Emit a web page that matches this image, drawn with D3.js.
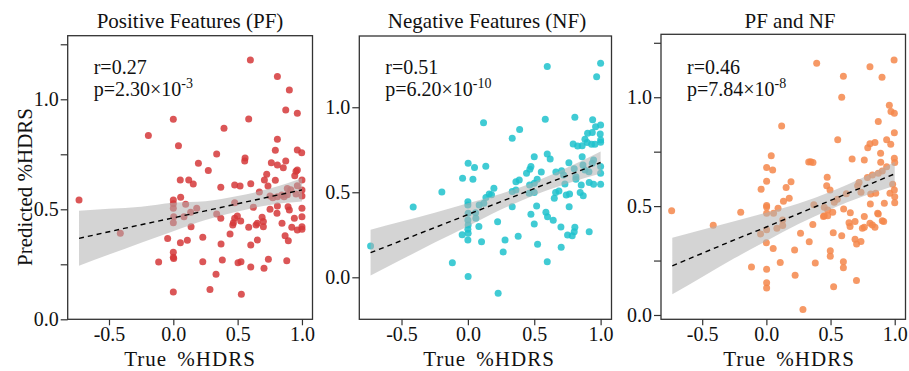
<!DOCTYPE html>
<html><head><meta charset="utf-8">
<script src="https://cdn.jsdelivr.net/npm/d3@7/dist/d3.min.js"></script>
<style>
html,body{margin:0;padding:0;background:#fff;}
svg{display:block;}
svg text{font-family:"Liberation Serif","Times New Roman",serif !important;}
</style></head>
<body><svg id="chart" width="909" height="371"></svg>
<script>
// ---------- DATA ----------
const titles = ["Positive Features (PF)", "Negative Features (NF)", "PF and NF"];
const rValues = ["0.27", "0.51", "0.46"];
const pMantissa = ["2.30", "6.20", "7.84"];
const pExponent = ["-3", "-10", "-8"];
const xTickValues = [-0.5, 0, 0.5, 1.0];
const yTicksPF = [0, 0.25, 0.5, 0.75, 1.0, 1.25];
const yTicksNF = [0, 0.5, 1.0];
const yTicksBoth = [0, 0.25, 0.5, 0.75, 1.0, 1.25];
const yTickLabels = [0, 0.5, 1.0];

const pfPoints = [[-0.733,0.542],[-0.412,0.391],[-0.194,0.835],[-0.114,0.261],[-0.044,0.367],
[0.0,0.909],[0.0,0.542],[0.0,0.525],[0.0,0.505],[0.003,0.466],[0.0,0.439],[0.0,0.305],[0.0,0.282],[0.003,0.276],[0.0,0.124],
[0.04,0.789],[0.054,0.633],[0.057,0.555],[0.055,0.348],[0.096,0.523],[0.083,0.466],[0.109,0.359],[0.12,0.633],[0.155,0.615],[0.135,0.486],[0.138,0.421],[0.182,0.505],[0.195,0.709],
[0.229,0.373],[0.229,0.262],[0.272,0.676],[0.285,0.136],[0.332,0.205],[0.337,0.751],[0.337,0.479],[0.369,0.6],[0.369,0.459],[0.371,0.342],[0.381,0.27],[0.394,0.868],[0.441,0.388],
[0.477,0.61],[0.477,0.53],[0.477,0.459],[0.498,0.47],[0.467,0.439],[0.462,0.429],[0.524,0.447],[0.503,0.257],[0.526,0.262],[0.519,0.606],[0.529,0.114],
[0.558,0.733],[0.555,0.72],[0.586,0.91],[0.586,0.418],[0.602,0.616],[0.602,0.338],[0.602,0.238],[0.599,1.179],[0.622,0.509],[0.643,0.429],[0.653,0.436],[0.653,0.36],[0.669,0.579],[0.69,0.464],[0.7,0.444],[0.7,0.421],[0.705,0.232],[0.708,0.633],[0.726,0.659],[0.736,0.606],[0.739,0.273],
[0.752,0.56],[0.752,0.5],[0.762,0.712],[0.773,0.553],[0.793,0.768],[0.793,0.632],[0.809,0.818],[0.809,0.701],[0.809,1.103],[0.809,0.557],[0.809,0.515],[0.806,0.482],[0.843,0.565],[0.845,0.436],[0.855,0.689],[0.861,0.557],[0.869,0.38],[0.874,0.951],[0.874,0.72],[0.882,0.266],[0.886,0.595],[0.886,0.566],[0.892,0.512],[0.894,0.357],[0.902,1.042],[0.902,0.497],[0.913,0.589],[0.921,0.418],[0.941,0.459],[0.944,0.653],[0.954,0.673],[0.954,0.57],[0.964,0.936],[0.964,0.77],[0.964,0.679],[0.964,0.607],[0.964,0.406],[0.998,0.757],[1.0,0.633],[1.0,0.588],[1.0,0.56],[1.0,0.505],[1.0,0.466],[1.0,0.421],[1.0,0.409]];

const nfPoints = [[-0.733,0.184],[-0.412,0.414],[-0.196,0.501],[-0.117,0.086],[-0.04,0.582],[-0.043,0.25],
[0.002,0.671],[0.0,0.445],[0.0,0.425],[0.002,0.376],[0.0,0.337],[0.002,0.307],[0.0,0.282],[0.002,0.259],[0.0,0.219],[0.002,0.004],
[0.038,0.576],[0.05,0.646],[0.058,0.38],[0.06,0.347],[0.083,0.298],[0.085,0.425],[0.103,0.209],[0.118,0.909],[0.12,0.435],[0.135,0.653],[0.136,0.47],[0.161,0.49],[0.178,0.486],[0.196,0.523],
[0.224,0.327],[0.228,-0.094],[0.266,0.149],[0.28,0.219],[0.334,0.817],[0.334,0.504],[0.334,0.415],[0.362,0.562],[0.362,0.514],[0.379,0.242],[0.39,0.869],[0.387,0.572],
[0.442,0.612],[0.467,0.635],[0.475,0.651],[0.465,0.543],[0.462,0.494],[0.475,0.371],[0.5,0.709],[0.5,0.553],[0.5,0.498],[0.5,0.313],[0.518,0.419],[0.522,0.576],[0.525,0.194],
[0.553,0.619],[0.583,0.929],[0.588,0.382],[0.598,1.239],[0.598,0.725],[0.598,0.092],[0.6,0.356],[0.62,0.696],[0.643,0.335],[0.651,0.465],[0.661,0.498],[0.663,0.619],[0.686,0.508],[0.701,0.296],[0.703,0.176],[0.706,0.627],[0.721,0.602],[0.731,0.549],[0.741,0.484],[0.751,0.249],[0.761,0.674],[0.763,0.415],[0.766,0.49],[0.786,0.245],[0.793,0.784],[0.801,0.639],[0.801,0.268],[0.806,0.941],[0.806,0.294],[0.814,0.592],[0.814,0.576],[0.827,0.772],[0.846,0.498],[0.854,0.543],[0.861,0.774],[0.861,0.709],[0.867,0.661],[0.869,0.48],[0.882,0.812],[0.882,0.631],[0.899,0.792],[0.902,0.847],[0.912,0.621],[0.914,0.557],[0.914,0.268],[0.932,0.782],[0.937,0.851],[0.937,0.671],[0.94,0.927],[0.947,0.69],[0.947,0.547],[0.957,0.782],[0.962,0.886],[0.97,1.18],[0.997,0.843],[1.0,0.896],[1.0,0.547],[1.0,1.259],[1.0,0.794],[1.0,0.651],[1.0,0.612],[1.0,0.808]];

const bothPoints = [[-0.738,0.479],[-0.414,0.412],[-0.2,0.472],[-0.116,0.22],[-0.041,0.578],[-0.045,0.372],
[0.002,0.677],[0.002,0.614],[0.002,0.503],[0.002,0.496],[0.002,0.467],[0.002,0.392],[0.0,0.332],[0.002,0.21],[0.002,0.148],[0.002,0.124],
[0.038,0.731],[0.049,0.666],[0.056,0.467],[0.053,0.305],[0.082,0.398],[0.091,0.49],[0.108,0.241],[0.119,0.868],[0.133,0.522],[0.127,0.436],[0.127,0.411],[0.154,0.585],[0.178,0.536],[0.192,0.612],
[0.22,0.298],[0.224,0.183],[0.266,0.375],[0.285,0.025],[0.33,0.702],[0.345,0.704],[0.363,0.7],[0.334,0.336],[0.362,0.415],[0.37,0.506],[0.381,0.239],[0.392,1.156],
[0.445,0.452],[0.451,0.495],[0.451,0.456],[0.474,0.633],[0.47,0.594],[0.478,0.482],[0.478,0.456],[0.496,0.574],[0.498,0.295],[0.498,0.27],[0.517,0.472],[0.521,0.378],[0.524,0.13],[0.529,0.518],[0.553,0.531],[0.556,0.805],
[0.587,0.364],[0.587,1.0],[0.6,1.096],[0.602,0.487],[0.6,0.245],[0.6,0.217],[0.623,0.557],[0.644,0.424],[0.652,0.406],[0.654,0.47],[0.668,0.716],[0.691,0.429],[0.691,0.348],[0.703,0.326],[0.702,0.158],[0.711,0.594],[0.722,0.608],[0.737,0.564],[0.737,0.338],[0.748,0.398],[0.763,0.403],[0.763,0.712],[0.763,0.452],[0.787,0.631],[0.79,0.768],[0.807,0.786],[0.807,1.14],[0.807,0.421],[0.81,0.51],[0.813,0.556],[0.826,0.643],[0.826,0.413],[0.846,0.792],[0.846,0.403],[0.852,0.559],[0.867,0.467],[0.872,0.888],[0.872,0.651],[0.872,0.464],[0.89,0.743],[0.891,0.701],[0.901,1.092],[0.903,0.661],[0.903,0.433],[0.914,0.429],[0.919,0.513],[0.937,0.805],[0.937,0.681],[0.958,0.963],[0.969,0.784],[0.971,0.934],[0.963,0.559],[0.984,0.6],[0.995,1.171],[0.997,0.926],[0.997,0.837],[0.997,0.72],[1.0,0.7],[0.997,0.574],[1.0,0.543],[1.0,0.516]];

// fitted line and 95% CI band
const bandX = [-0.733, -0.5, -0.25, 0, 0.25, 0.5, 0.75, 1.0];
const pfFit = [0.368, 0.398, 0.430, 0.461, 0.493, 0.525, 0.557, 0.588];
const pfLo  = [0.243, 0.294, 0.348, 0.400, 0.451, 0.490, 0.520, 0.535];
const pfHi  = [0.493, 0.502, 0.512, 0.530, 0.537, 0.560, 0.594, 0.641];
const nfFit = [0.145, 0.216, 0.292, 0.369, 0.445, 0.522, 0.598, 0.675];
const nfLo  = [0.010, 0.104, 0.204, 0.300, 0.398, 0.483, 0.551, 0.610];
const nfHi  = [0.280, 0.328, 0.380, 0.436, 0.492, 0.560, 0.645, 0.740];
const bothFit = [0.226, 0.283, 0.345, 0.404, 0.465, 0.526, 0.587, 0.648];
const bothLo  = [0.095, 0.175, 0.260, 0.340, 0.418, 0.486, 0.544, 0.594];
const bothHi  = [0.355, 0.391, 0.430, 0.470, 0.512, 0.566, 0.630, 0.702];

// ---------- LAYOUT ----------
const panels = [
  {points: pfPoints, fit: pfFit, lo: pfLo, hi: pfHi, yTicks: yTicksPF, color: "#d5383a",
   left: 67.7, right: 312.5, top: 35.7, bottom: 319.3, xDom: [-0.821, 1.082], yDom: [0, 1.289],
   titleX: 190, xLabelX: 190},
  {points: nfPoints, fit: nfFit, lo: nfLo, hi: nfHi, yTicks: yTicksNF, color: "#1fc2cd",
   left: 359.3, right: 611.5, top: 36, bottom: 319.3, xDom: [-0.818, 1.082], yDom: [-0.247, 1.419],
   titleX: 487, xLabelX: 489},
  {points: bothPoints, fit: bothFit, lo: bothLo, hi: bothHi, yTicks: yTicksBoth, color: "#f4874b",
   left: 661, right: 905.5, top: 34.3, bottom: 319.3, xDom: [-0.821, 1.084], yDom: [-0.0198, 1.289],
   titleX: 790, xLabelX: 789}
];

const svg = d3.select("#chart");
const fmt = d => d.toFixed(1);

panels.forEach((p, i) => {
  const x = d3.scaleLinear().domain(p.xDom).range([p.left, p.right]);
  const y = d3.scaleLinear().domain(p.yDom).range([p.bottom, p.top]);
  const g = svg.append("g");

  // points
  g.append("g").selectAll("circle").data(p.points).join("circle")
    .attr("cx", d => x(d[0])).attr("cy", d => y(d[1])).attr("r", 3.5)
    .attr("fill", p.color).attr("fill-opacity", 0.85);

  // CI band
  const bandData = bandX.map((bx, k) => ({x: bx, lo: p.lo[k], hi: p.hi[k], f: p.fit[k]}));
  g.append("path").datum(bandData)
    .attr("d", d3.area().x(d => x(d.x)).y0(d => y(d.lo)).y1(d => y(d.hi)).curve(d3.curveMonotoneX))
    .attr("fill", "#b0b0b0").attr("fill-opacity", 0.55);

  // fit line
  g.append("path").datum(bandData)
    .attr("d", d3.line().x(d => x(d.x)).y(d => y(d.f)))
    .attr("fill", "none").attr("stroke", "#000").attr("stroke-width", 1.4)
    .attr("stroke-dasharray", "5,4");

  // frame
  g.append("rect").attr("x", p.left).attr("y", p.top)
    .attr("width", p.right - p.left).attr("height", p.bottom - p.top)
    .attr("fill", "none").attr("stroke", "#333").attr("stroke-width", 1.3);

  // axes
  const ax = g.append("g").attr("transform", `translate(0,${p.bottom})`)
    .call(d3.axisBottom(x).tickValues(xTickValues).tickSize(6).tickPadding(2).tickFormat(fmt));
  const ay = g.append("g").attr("transform", `translate(${p.left},0)`)
    .call(d3.axisLeft(y).tickValues(p.yTicks).tickSize(7).tickPadding(2)
      .tickFormat(d => yTickLabels.some(v => Math.abs(v - d) < 1e-9) ? fmt(d) : ""));
  [ax, ay].forEach(a => {
    a.select(".domain").remove();
    a.selectAll("line").attr("stroke", "#333").attr("stroke-width", 1.2);
    a.selectAll("text").attr("font-size", 20).attr("fill", "#111");
  });

  // title
  svg.append("text").attr("x", p.titleX).attr("y", 28).attr("text-anchor", "middle")
    .attr("font-size", 21).attr("fill", "#111").text(titles[i]);

  // x label
  svg.append("text").attr("x", p.xLabelX).attr("y", 366).attr("text-anchor", "middle")
    .attr("font-size", 21).attr("fill", "#111")
    .attr("letter-spacing", "1px").attr("word-spacing", "4px").text("True %HDRS");

  // stats
  const tx = p.left + 26;
  svg.append("text").attr("x", tx).attr("y", 74).attr("font-size", 20).attr("fill", "#111")
    .text("r=" + rValues[i]);
  const pt = svg.append("text").attr("x", tx).attr("y", 96).attr("font-size", 20).attr("fill", "#111");
  pt.append("tspan").text("p=" + pMantissa[i] + "×10");
  pt.append("tspan").attr("dy", -8).attr("font-size", 14).text(pExponent[i]);
});

// y label
svg.append("text").attr("transform", "translate(32,187) rotate(-90)")
  .attr("text-anchor", "middle").attr("font-size", 21).attr("fill", "#111")
  .text("Predicted %HDRS");
</script>
</body></html>
